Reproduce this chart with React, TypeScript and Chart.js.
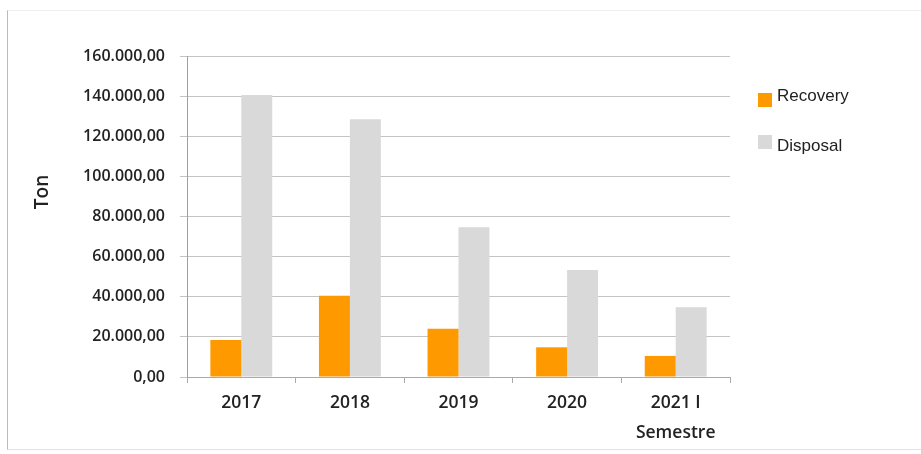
import React, { useEffect, useRef } from "react";
import { Chart, registerables } from "chart.js";

Chart.register(...registerables);

const categories: (string | string[])[] = ["2017", "2018", "2019", "2020", ["2021 I", "Semestre"]];
const recovery = [18500, 40500, 24000, 14800, 10500];
const disposal = [140600, 128500, 74700, 53300, 34800];
const seriesNames = ["Recovery", "Disposal"];
const seriesColors = ["#FF9900", "#D9D9D9"];
const yAxisTitle = "Ton";
const yMax = 160000;
const yStep = 20000;

function formatNumber(v: number): string {
  const intPart = Math.round(v).toString().replace(/\B(?=(\d{3})+(?!\d))/g, ".");
  return intPart + ",00";
}

const yTitlePlugin = {
  id: "yTitlePlugin",
  afterDraw(chart: any) {
    const ctx = chart.ctx;
    ctx.save();
    ctx.translate(43, 192);
    ctx.rotate(-Math.PI / 2);
    ctx.font = "600 19px 'Open Sans', sans-serif";
    ctx.fillStyle = "#222222";
    ctx.textAlign = "center";
    ctx.textBaseline = "middle";
    ctx.fillText(yAxisTitle, 0, 0);
    ctx.restore();
  },
};

export default function App() {
  const canvasRef = useRef<HTMLCanvasElement | null>(null);

  useEffect(() => {
    if (!canvasRef.current) return;
    const chart = new Chart(canvasRef.current, {
      type: "bar",
      data: {
        labels: categories as any,
        datasets: [
          {
            label: seriesNames[0],
            data: recovery,
            backgroundColor: seriesColors[0],
            categoryPercentage: 0.57,
            barPercentage: 1,
          },
          {
            label: seriesNames[1],
            data: disposal,
            backgroundColor: seriesColors[1],
            categoryPercentage: 0.57,
            barPercentage: 1,
          },
        ],
      },
      options: {
        responsive: false,
        animation: false,
        layout: { padding: { left: 0, top: 56, right: 191, bottom: 0 } },
        plugins: {
          legend: { display: false },
          tooltip: { enabled: false },
        },
        scales: {
          x: {
            grid: {
              display: true,
              drawOnChartArea: false,
              drawTicks: true,
              tickLength: 6,
              color: "#AAAAAA",
            },
            border: { display: true, color: "#AAAAAA" },
            ticks: {
              color: "#222222",
              padding: 5,
              font: { family: "'Open Sans', sans-serif", size: 17.5, weight: "600", lineHeight: "30px" },
              maxRotation: 0,
              autoSkip: false,
            },
            afterFit: (s: any) => {
              s.height = 77;
            },
          },
          y: {
            min: 0,
            max: yMax,
            grid: {
              color: "#C4C4C4",
              drawTicks: true,
              tickLength: 7,
            },
            border: { display: true, color: "#A0A0A0" },
            ticks: {
              stepSize: yStep,
              color: "#222222",
              padding: 15,
              font: { family: "'Open Sans', sans-serif", size: 16, weight: "600" },
              callback: (v: any) => formatNumber(Number(v)),
            },
            afterFit: (s: any) => {
              s.width = 187;
            },
          },
        },
      },
      plugins: [yTitlePlugin],
    });
    return () => chart.destroy();
  }, []);

  const legendItem = (i: number, top: number, boxTop: number) => (
    <div key={i}>
      <div
        style={{
          position: "absolute",
          left: 758,
          top: boxTop,
          width: 14,
          height: 14,
          background: seriesColors[i],
        }}
      />
      <div
        style={{
          position: "absolute",
          left: 777,
          top: top,
          fontFamily: "'Liberation Sans', Arial, sans-serif",
          fontSize: 17,
          color: "#222222",
          lineHeight: "20px",
          whiteSpace: "nowrap",
        }}
      >
        {seriesNames[i]}
      </div>
    </div>
  );

  return (
    <div style={{ position: "fixed", left: 0, top: 0, width: 921, height: 454, background: "#ffffff", overflow: "hidden" }}>
      <div
        style={{
          position: "absolute",
          left: 7,
          top: 10,
          width: 930,
          height: 438,
          borderLeft: "1px solid #BBBBBB",
          borderTop: "1px solid #EEEEEE",
          borderBottom: "1px solid #E2E2E2",
        }}
      />
      <canvas ref={canvasRef} width={921} height={454} style={{ position: "absolute", left: 0, top: 0 }} />
      {legendItem(0, 86, 93)}
      {legendItem(1, 136, 135)}
    </div>
  );
}
